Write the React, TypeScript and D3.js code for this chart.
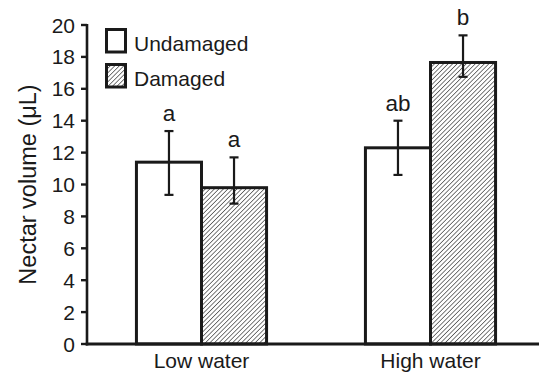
import React from 'react';
import * as d3 from 'd3';

// chart values
const groups = ['Low water', 'High water'];
const series = ['Undamaged', 'Damaged'];
const undamaged = [11.4, 12.3];
const damaged = [9.8, 17.65];
const undamagedLo = [9.35, 10.6];
const undamagedHi = [13.35, 14.0];
const damagedLo = [8.8, 16.75];
const damagedHi = [11.7, 19.35];
const undamagedLetters = ['a', 'ab'];
const damagedLetters = ['a', 'b'];
const yTicks = [0, 2, 4, 6, 8, 10, 12, 14, 16, 18, 20];

const W = 539;
const H = 372;
const AXIS_X = 87;
const AXIS_Y = 344;
const FONT = '"Liberation Sans", Arial, Helvetica, sans-serif';

export default function App() {
  const y = d3.scaleLinear().domain([0, 20]).range([AXIS_Y, 25]);
  const x0 = d3.scaleBand<string>()
    .domain(groups)
    .range([AXIS_X, 545])
    .paddingInner(0.4318)
    .paddingOuter(0.2159);
  const x1 = d3.scaleBand<string>().domain(series).range([0, x0.bandwidth()]);

  const rows = groups.flatMap((g, i) => [
    { g, s: 'Undamaged', v: undamaged[i], lo: undamagedLo[i], hi: undamagedHi[i], letter: undamagedLetters[i] },
    { g, s: 'Damaged', v: damaged[i], lo: damagedLo[i], hi: damagedHi[i], letter: damagedLetters[i] },
  ]);

  return (
    <svg width={W} height={H} style={{ position: 'absolute', left: 0, top: 0, background: '#fff' }}
      fontFamily={FONT} xmlns="http://www.w3.org/2000/svg">
      <defs>
        <pattern id="hatch" patternUnits="userSpaceOnUse" width={3.2} height={3.2} patternTransform="rotate(45)">
          <rect width={3.2} height={3.2} fill="#fff" />
          <line x1={0} y1={0} x2={0} y2={3.2} stroke="#333" strokeWidth={1.3} />
        </pattern>
      </defs>

      {/* bars */}
      {rows.map((r, i) => {
        const bx = (x0(r.g) as number) + (x1(r.s) as number);
        return (
          <rect key={`bar-${i}`} x={bx} y={y(r.v)} width={x1.bandwidth()} height={AXIS_Y - y(r.v)}
            fill={r.s === 'Damaged' ? 'url(#hatch)' : '#fff'} stroke="#1a1a1a" strokeWidth={3} />
        );
      })}

      {/* error bars + letters */}
      {rows.map((r, i) => {
        const cx = (x0(r.g) as number) + (x1(r.s) as number) + x1.bandwidth() / 2;
        return (
          <g key={`err-${i}`} stroke="#1a1a1a" strokeWidth={2.2}>
            <line x1={cx} x2={cx} y1={y(r.lo)} y2={y(r.hi)} />
            <line x1={cx - 4.5} x2={cx + 4.5} y1={y(r.lo)} y2={y(r.lo)} />
            <line x1={cx - 4.5} x2={cx + 4.5} y1={y(r.hi)} y2={y(r.hi)} />
            <text x={cx} y={y(r.hi) - 10} textAnchor="middle" fontSize={22.5} fill="#1a1a1a" stroke="none">
              {r.letter}
            </text>
          </g>
        );
      })}

      {/* axes */}
      <line x1={AXIS_X} x2={AXIS_X} y1={y(20) - 1} y2={AXIS_Y + 1.5} stroke="#1a1a1a" strokeWidth={2.6} />
      <line x1={AXIS_X - 1.3} x2={W} y1={AXIS_Y} y2={AXIS_Y} stroke="#1a1a1a" strokeWidth={2.8} />
      {yTicks.map((t) => (
        <g key={`t-${t}`}>
          <line x1={AXIS_X - 6} x2={AXIS_X} y1={y(t)} y2={y(t)} stroke="#1a1a1a" strokeWidth={2.4} />
          <text x={AXIS_X - 12} y={y(t)} dy="0.36em" textAnchor="end" fontSize={21} fill="#1a1a1a">{t}</text>
        </g>
      ))}
      {groups.map((g) => (
        <text key={g} x={(x0(g) as number) + x0.bandwidth() / 2} y={368} textAnchor="middle" fontSize={21} fill="#1a1a1a">
          {g}
        </text>
      ))}
      <text transform={`translate(36,184.5) rotate(-90)`} textAnchor="middle" fontSize={23.5} fill="#1a1a1a">
        Nectar volume (μL)
      </text>

      {/* legend */}
      {series.map((s, i) => (
        <g key={`leg-${s}`} transform={`translate(106.5,${29.5 + i * 35})`}>
          <rect width={19} height={22.5} fill={s === 'Damaged' ? 'url(#hatch)' : '#fff'} stroke="#1a1a1a" strokeWidth={3} />
          <text x={27.5} y={21} fontSize={21} fill="#1a1a1a">{s}</text>
        </g>
      ))}
    </svg>
  );
}
